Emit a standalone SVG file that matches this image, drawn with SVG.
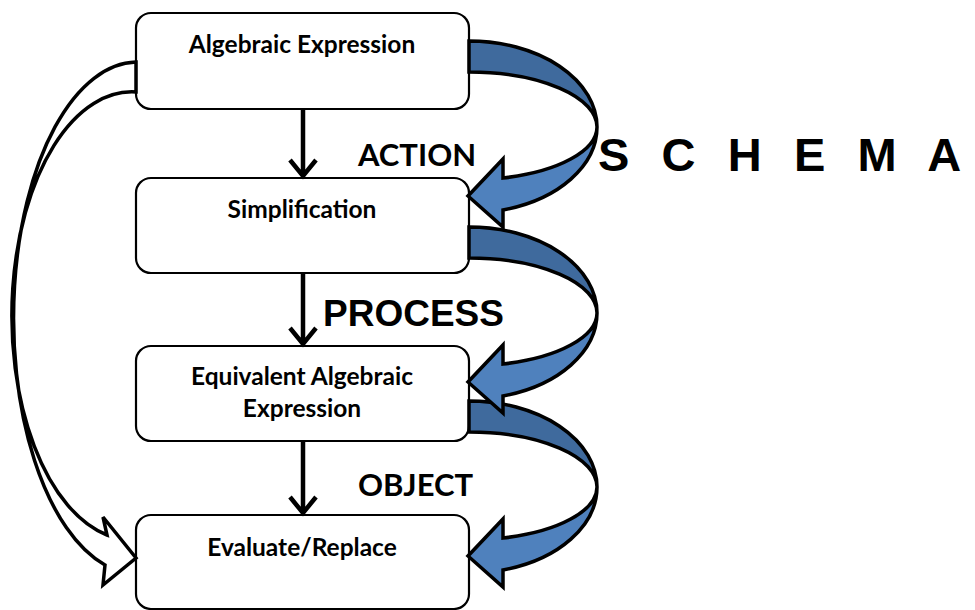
<svg xmlns="http://www.w3.org/2000/svg" xmlns:xlink="http://www.w3.org/1999/xlink" width="975" height="610" viewBox="0 0 975 610">
<style>
.box{fill:#fff;stroke:#000;stroke-width:2.2}
.bt{font-family:Lato,"Liberation Sans",sans-serif;font-weight:bold;font-size:24.5px;fill:#000;text-anchor:middle}
.lbl{font-family:Lato,"Liberation Sans",sans-serif;font-weight:bold;font-size:31px;fill:#000}
.arial{font-family:"Liberation Sans",Arial,sans-serif;font-weight:bold;fill:#000}
.down{fill:none;stroke:#000;stroke-width:4.5}
.dark{fill:#3f6a9d;stroke:#000;stroke-width:3.5;stroke-linejoin:miter}
.light{fill:#4f81bd;stroke:#000;stroke-width:3.5;stroke-linejoin:miter}
.white{fill:#fff;stroke:#000;stroke-width:3.5;stroke-linejoin:miter}
</style>
<defs>
<g id="curved">
<path class="dark" d="M469,-86 A128,86 0 0 1 597,0 A128,55 0 0 0 469,-55 Z"/>
<path class="light" d="M597,0 A128,86 0 0 1 503,83 L503,100 L468,69 L503,32 L503,51 A128,53 0 0 0 597,0 Z"/>
</g>
</defs>
<g id="n1"><rect class="box" x="136" y="13" width="333" height="96" rx="15"/><text class="bt" x="302" y="53">Algebraic Expression</text></g>
<g id="n2"><rect class="box" x="136" y="178" width="333" height="95" rx="15"/><text class="bt" x="302" y="218">Simplification</text></g>
<g id="n3"><rect class="box" x="136" y="346" width="333" height="95" rx="15"/><text class="bt" x="302" y="385">Equivalent Algebraic</text><text class="bt" x="302" y="417">Expression</text></g>
<g id="n4"><rect class="box" x="136" y="515" width="333" height="94" rx="15"/><text class="bt" x="302" y="556">Evaluate/Replace</text></g>
<g id="connectors">
<path class="down" d="M303,109 V176 M290,160 L303,176 L316,160"/>
<path class="down" d="M303,273 V344 M290,328 L303,344 L316,328"/>
<path class="down" d="M303,441 V513 M290,497 L303,513 L316,497"/>
<use xlink:href="#curved" transform="translate(0,487)"/>
<use xlink:href="#curved" transform="translate(0,313)"/>
<use xlink:href="#curved" transform="translate(0,127)"/>
<path class="white" d="M136,62 A124,256 0 0 0 105,565 L103,585 L136,558 L103,517 L107,535 A120,224 0 0 1 136,92 Z"/>
</g>
<g id="labels">
<text class="lbl" x="358" y="166">ACTION</text>
<text class="arial" x="323" y="326" font-size="37">PROCESS</text>
<text class="lbl" x="358" y="496">OBJECT</text>
<text class="arial" x="598" y="171" font-size="47" letter-spacing="9.6">S C H E M A</text>
</g>
</svg>
